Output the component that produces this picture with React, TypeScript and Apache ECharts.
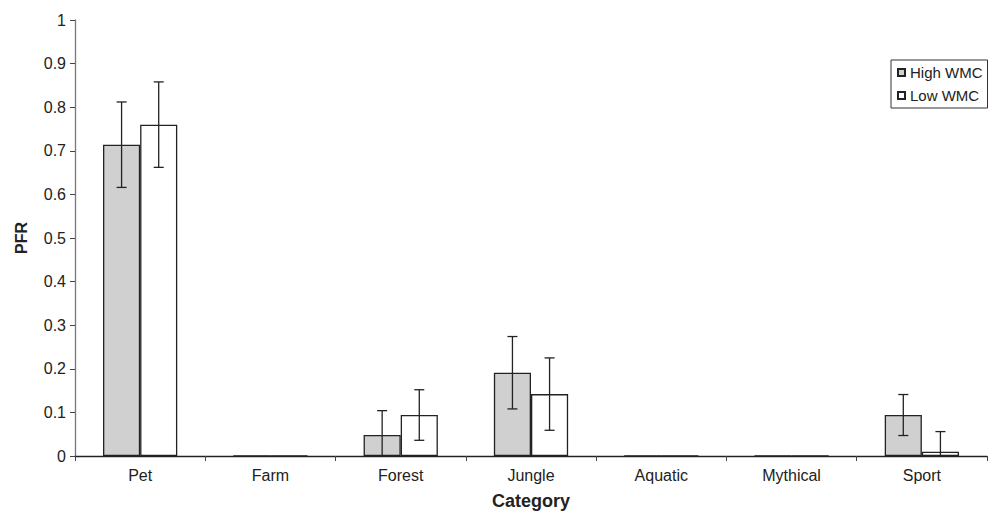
import React, { useEffect, useRef } from "react";
import * as echarts from "echarts";

const categories = ["Pet", "Farm", "Forest", "Jungle", "Aquatic", "Mythical", "Sport"];
const highValues = [0.714, 0, 0.048, 0.191, 0, 0, 0.094];
const lowValues = [0.76, 0, 0.094, 0.142, 0, 0, 0.01];
const highErrors = [0.098, 0, 0.056, 0.083, 0, 0, 0.047];
const lowErrors = [0.098, 0, 0.058, 0.083, 0, 0, 0.046];
const yTicks = [0, 0.1, 0.2, 0.3, 0.4, 0.5, 0.6, 0.7, 0.8, 0.9, 1];

const BAR_FRAC = 0.285;
const FONT = "Liberation Sans, Arial, sans-serif";

function errorSeries(name: string, values: number[], errors: number[], side: number) {
  const data = values.map((v, i) => [i, v, errors[i]]);
  return {
    type: "custom",
    name: name + " err",
    z: 10,
    silent: true,
    data,
    renderItem: (params: any, api: any) => {
      const idx = api.value(0);
      const v = api.value(1);
      const e = api.value(2);
      if (!e) return null;
      const catW = api.size([1, 0])[0];
      const bw = catW * BAR_FRAC;
      const base = api.coord([idx, 0]);
      const x = base[0] + side * bw / 2;
      const yZero = base[1];
      const top = api.coord([idx, v + e])[1];
      const lowVal = v - e;
      const bottom = lowVal < 0 ? yZero : api.coord([idx, lowVal])[1];
      const capHalf = 5;
      const style = { stroke: "#222", lineWidth: 1.3 };
      const children: any[] = [
        { type: "line", shape: { x1: x, y1: top, x2: x, y2: bottom }, style },
        { type: "line", shape: { x1: x - capHalf, y1: top, x2: x + capHalf, y2: top }, style },
      ];
      if (lowVal >= 0) {
        children.push({ type: "line", shape: { x1: x - capHalf, y1: bottom, x2: x + capHalf, y2: bottom }, style });
      }
      return { type: "group", children };
    },
  };
}

export default function App() {
  const ref = useRef<HTMLDivElement>(null);
  useEffect(() => {
    if (!ref.current) return;
    const chart = echarts.init(ref.current, null, { renderer: "svg" });
    chart.setOption({
      animation: false,
      backgroundColor: "#ffffff",
      textStyle: { fontFamily: FONT },
      grid: { left: 75, right: 5, top: 20, bottom: 53, containLabel: false },
      legend: {
        orient: "vertical",
        left: 891,
        top: 60,
        data: ["High WMC", "Low WMC"],
        icon: "rect",
        itemWidth: 7,
        itemHeight: 7,
        itemGap: 8,
        padding: [5, 5, 5, 6],
        borderColor: "#333",
        borderWidth: 1,
        borderRadius: 0,
        textStyle: { fontSize: 15, color: "#222", fontFamily: FONT },
      },
      xAxis: {
        type: "category",
        data: categories,
        boundaryGap: true,
        name: "Category",
        nameLocation: "middle",
        nameGap: 36,
        nameTextStyle: { fontSize: 18, fontWeight: "bold", color: "#222", fontFamily: FONT },
        axisLine: { lineStyle: { color: "#222", width: 1.3 } },
        axisTick: { show: true, length: 5, lineStyle: { color: "#444" } },
        axisLabel: { fontSize: 16, color: "#222", margin: 11, fontFamily: FONT },
        splitLine: { show: false },
      },
      yAxis: {
        type: "value",
        min: yTicks[0],
        max: yTicks[yTicks.length - 1],
        interval: 0.1,
        name: "PFR",
        nameLocation: "middle",
        nameGap: 46,
        nameRotate: 90,
        nameTextStyle: { fontSize: 16, fontWeight: "bold", color: "#222", fontFamily: FONT },
        axisLine: { show: true, lineStyle: { color: "#777", width: 1.3 } },
        axisTick: { show: true, length: 5, lineStyle: { color: "#444" } },
        axisLabel: { fontSize: 16, color: "#222", margin: 9, fontFamily: FONT },
        splitLine: { show: false },
      },
      series: [
        {
          name: "High WMC",
          type: "bar",
          data: highValues,
          barWidth: BAR_FRAC * 100 + "%",
          barGap: "0%",
          itemStyle: { color: "#d0d0d0", borderColor: "#222", borderWidth: 1.3 },
        },
        {
          name: "Low WMC",
          type: "bar",
          data: lowValues,
          barWidth: BAR_FRAC * 100 + "%",
          barGap: "0%",
          itemStyle: { color: "#ffffff", borderColor: "#222", borderWidth: 1.3 },
        },
        errorSeries("High WMC", highValues, highErrors, -1),
        errorSeries("Low WMC", lowValues, lowErrors, 1),
      ],
    });
    return () => chart.dispose();
  }, []);
  return (
    <div
      ref={ref}
      style={{ position: "fixed", left: 0, top: 0, width: 992, height: 515 }}
    />
  );
}
